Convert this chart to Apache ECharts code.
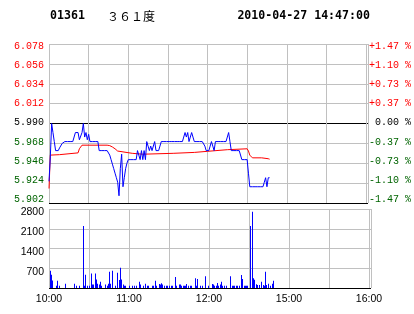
<!DOCTYPE html>
<html>
<head>
<meta charset="utf-8">
<script src="https://cdn.jsdelivr.net/npm/echarts@6/dist/echarts.min.js"></script>
<style>
html,body{margin:0;padding:0;background:#fff;}
#c{width:414px;height:314px;}
</style>
</head>
<body>
<div id="c"></div>
<script>
// ---- data ----
const stockCode = '01361';
const stockName = '３６１度';
const stamp = '2010-04-27 14:47:00';
const prevClose = 5.99;
const priceMin = 5.902, priceMax = 6.078, priceStep = 0.022;
const volMax = 2800, volStep = 700;
const tickMinutes = [0, 60, 120, 180, 240];
const tickLabels = ['10:00', '11:00', '12:00', '15:00', '16:00'];

// last price per minute (index = minutes since open, lunch break removed)
const lastPrice = [
 5.926,5.953,5.99,5.98,5.97,5.96,5.96,5.96,5.963,5.965,
 5.968,5.97,5.97,5.97,5.97,5.97,5.97,5.97,5.97,5.97,
 5.98,5.98,5.98,5.972,5.97,5.98,5.99,5.975,5.98,5.972,
 5.978,5.97,5.97,5.97,5.97,5.97,5.97,5.97,5.96,5.96,
 5.96,5.96,5.96,5.96,5.96,5.96,5.955,5.95,5.945,5.94,
 5.935,5.93,5.925,5.91,5.94,5.956,5.92,5.93,5.94,5.946,
 5.95,5.95,5.95,5.95,5.95,5.95,5.95,5.96,5.96,5.95,
 5.96,5.95,5.96,5.95,5.97,5.965,5.96,5.965,5.96,5.96,
 5.97,5.96,5.96,5.96,5.965,5.97,5.97,5.97,5.97,5.97,
 5.97,5.97,5.97,5.97,5.97,5.97,5.97,5.97,5.97,5.97,
 5.97,5.97,5.97,5.98,5.975,5.98,5.97,5.975,5.98,5.975,
 5.97,5.97,5.97,5.97,5.97,5.97,5.97,5.97,5.965,5.96,
 5.96,5.96,5.965,5.97,5.965,5.96,5.97,5.97,5.97,5.97,
 5.97,5.97,5.97,5.97,5.97,5.975,5.98,5.97,5.96,5.96,
 5.96,5.96,5.96,5.96,5.96,5.96,5.95,5.95,5.95,5.95,
 5.95,5.935,5.92,5.92,5.92,5.92,5.92,5.92,5.92,5.92,
 5.92,5.92,5.92,5.925,5.93,5.92,5.93,5.93
];

// average price (read at change points)
const avgMinute = [0,1,8,9,22,23,24,25,44,46,48,50,52,53,63,64,71,72,94,95,110,111,120,121,135,136,150,151,152,153,154,161,162,166,167];
const avgPrice  = [5.918,5.955,5.9555,5.9575,5.9575,5.962,5.963,5.966,5.966,5.9655,5.964,5.962,5.9595,5.9575,5.957,5.956,5.956,5.957,5.957,5.958,5.958,5.959,5.9592,5.961,5.961,5.962,5.962,5.9595,5.955,5.953,5.952,5.952,5.951,5.951,5.9505];

// volume bars (minute position, lots)
const volMinute = [1.125,1.875,2.625,5.625,6.375,7.875,12.375,19.125,20.625,22.875,25.875,26.625,27.375,28.875,30.375,31.875,32.625,33.375,34.875,35.625,36.375,37.875,38.625,39.375,42.375,43.875,44.625,45.375,46.125,47.625,49.875,51.375,52.875,53.625,54.375,55.875,56.625,57.375,60.375,62.625,64.125,65.625,67.875,68.625,70.875,72.375,73.875,74.625,77.625,78.375,79.875,80.625,82.875,83.625,84.375,85.125,
 86.625,88.125,88.875,90.375,91.875,92.625,94.875,95.625,97.875,98.625,99.375,100.875,101.625,102.375,103.125,104.625,106.125,106.875,109.875,110.625,111.375,113.625,115.125,117.375,119.625,122.625,123.375,124.125,125.625,126.375,127.125,128.625,129.375,130.125,131.625,133.125,136.125,137.625,138.375,139.125,140.625,141.375,142.875,144.375,145.125,146.625,147.375,148.125,148.875,151.125,152.625,153.375,154.125,155.625,156.375,157.875,159.375,160.875,161.625,162.375,163.125,164.625,166.125,167.625,168.375];
const volLots = [610,470,270,80,260,80,150,150,80,80,2200,80,470,80,80,510,120,120,510,300,150,120,220,80,120,80,150,580,150,610,80,540,280,720,300,120,80,80,80,80,80,80,220,120,80,150,80,80,80,80,260,80,140,120,165,120,
 80,80,80,80,80,80,390,80,120,120,80,80,80,80,140,80,80,80,350,80,320,80,80,420,80,140,120,80,80,180,80,120,225,80,80,80,420,80,80,80,80,80,80,460,320,80,80,80,80,2200,2700,350,290,130,110,110,225,110,80,580,110,150,80,150,260];

// ---- chart ----
const GRID = '#c0c0c0';
const RED = '#ff0000', GREEN = '#006400', BLUE = '#0000ff';
const monoFont = 'Liberation Mono';
const nPriceTicks = Math.round((priceMax - priceMin) / priceStep) + 1;
const zeroIdx = Math.round((prevClose - priceMin) / priceStep);
const priceSplitColors = [];
for (let i = 0; i < nPriceTicks; i++) priceSplitColors.push((i === 0 || i === zeroIdx) ? '#000' : GRID);
const nVolTicks = Math.round(volMax / volStep) + 1;
const volSplitColors = [];
for (let i = 0; i < nVolTicks; i++) volSplitColors.push(i === 0 ? '#000' : GRID);

function sideColor(v) {
  const d = v - prevClose;
  if (Math.abs(d) < 1e-6) return '#000';
  return d > 0 ? RED : GREEN;
}
function pctText(v) {
  const p = (v - prevClose) / prevClose * 100;
  if (Math.abs(p) < 0.005) return ' 0.00 %';
  return (p > 0 ? '+' : '-') + Math.abs(p).toFixed(2) + ' %';
}
function timeText(v) {
  for (let i = 0; i < tickMinutes.length; i++) if (Math.abs(v - tickMinutes[i]) < 1e-6) return tickLabels[i];
  return '';
}
// price-axis label styles: labels sit on a slightly tighter pitch than the grid
const priceRich = {};
for (let i = 0; i < nPriceTicks; i++) {
  const v = priceMin + i * priceStep;
  const s = -3.5 + i * 5.5 / (nPriceTicks - 1);
  priceRich['t' + i] = {
    color: sideColor(v), fontFamily: monoFont, fontSize: 10,
    padding: s > 0 ? [2 * s, 0, 0, 0] : [0, 0, -2 * s, 0]
  };
}
const volRich = {v: {color: '#000', fontFamily: 'Liberation Sans', fontSize: 10.5, padding: [7, 0, 0, 0]}};

const chart = echarts.init(document.getElementById('c'), null, {renderer: 'canvas'});
const xCommon = {type: 'value', min: 0, max: 241.5, interval: 30,
  axisLine: {show: false}, axisTick: {show: false},
  splitLine: {show: true, lineStyle: {color: GRID, width: 1}}};
chart.setOption({
  animation: false,
  backgroundColor: '#fff',
  title: [
    {text: stockCode, left: 50, top: 10, padding: 0, textStyle: {fontFamily: 'DejaVu Sans Mono', fontWeight: 'bold', fontSize: 11.6, color: '#000'}},
    {text: stockName, left: 107, top: 10, padding: 0, textStyle: {fontFamily: 'Noto Sans CJK SC', fontWeight: 'normal', fontSize: 12, color: '#000'}},
    {text: stamp, right: 44, top: 10, padding: 0, textStyle: {fontFamily: 'DejaVu Sans Mono', fontWeight: 'bold', fontSize: 11.6, color: '#000'}}
  ],
  grid: [
    {left: 49, top: 44, width: 322, height: 159},
    {left: 49, top: 209, width: 322, height: 79}
  ],
  xAxis: [
    Object.assign({gridIndex: 0, axisLabel: {show: false}}, xCommon),
    Object.assign({gridIndex: 1, axisLabel: {show: true, formatter: timeText, margin: 6,
      fontFamily: 'Liberation Sans', fontSize: 10.5, color: '#000'}}, xCommon)
  ],
  yAxis: [
    {gridIndex: 0, type: 'value', min: priceMin, max: priceMax, interval: priceStep,
     axisLine: {show: false}, axisTick: {show: false},
     axisLabel: {margin: 5, formatter: (v, i) => '{t' + i + '|' + v.toFixed(3) + '}', rich: priceRich, fontFamily: monoFont, fontSize: 10},
     splitLine: {show: true, lineStyle: {color: priceSplitColors, width: 1}}},
    {gridIndex: 0, type: 'value', position: 'right', min: priceMin, max: priceMax, interval: priceStep,
     axisLine: {show: false}, axisTick: {show: false},
     axisLabel: {margin: 1, formatter: (v, i) => '{t' + i + '|' + pctText(v) + '}', rich: priceRich, fontFamily: monoFont, fontSize: 10},
     splitLine: {show: false}},
    {gridIndex: 1, type: 'value', min: 0, max: volMax, interval: volStep,
     axisLine: {show: false}, axisTick: {show: false},
     axisLabel: {margin: 5, formatter: v => (v === 0 ? '' : '{v|' + v + '}'), rich: volRich, color: '#000', fontFamily: 'Liberation Sans', fontSize: 10.5},
     splitLine: {show: true, lineStyle: {color: volSplitColors, width: 1}}}
  ],
  series: [
    {type: 'line', xAxisIndex: 0, yAxisIndex: 0, showSymbol: false, silent: true,
     lineStyle: {color: RED, width: 1}, itemStyle: {color: RED},
     data: avgMinute.map((m, i) => [m, avgPrice[i]]), z: 3},
    {type: 'line', xAxisIndex: 0, yAxisIndex: 0, showSymbol: false, silent: true,
     lineStyle: {color: BLUE, width: 1}, itemStyle: {color: BLUE},
     data: lastPrice.map((p, i) => [i, p]), z: 4},
    {type: 'bar', xAxisIndex: 1, yAxisIndex: 2, barWidth: 1, silent: true,
     itemStyle: {color: BLUE},
     data: volMinute.map((m, i) => [m, volLots[i]])}
  ]
});
</script>
</body>
</html>
